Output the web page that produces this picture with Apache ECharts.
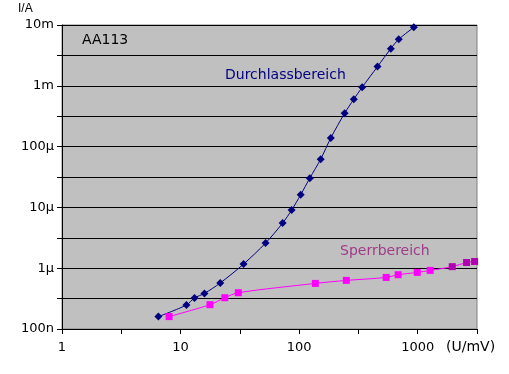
<!DOCTYPE html>
<html><head><meta charset="utf-8">
<script src="https://cdn.jsdelivr.net/npm/echarts@6/dist/echarts.min.js"></script>
<style>html,body{margin:0;padding:0;background:#fff}#c{width:509px;height:374px}</style>
</head><body><div id="c"></div>
<script>
// Durchlassbereich (forward) : U in mV, I in A
var durchU = [6.5, 11.2, 13.1, 15.9, 21.6, 34.0, 52.1, 72.6, 86.4, 103, 123, 152, 185, 242, 289, 340, 458, 593, 692, 927];
var durchI = [1.6e-7, 2.48e-7, 3.24e-7, 3.85e-7, 5.71e-7, 1.17e-6, 2.59e-6, 5.53e-6, 9.03e-6, 1.61e-5, 3.03e-5, 6.22e-5, 1.39e-4, 3.54e-4, 6.01e-4, 9.47e-4, 2.07e-3, 4.08e-3, 5.82e-3, 9.16e-3];
// Sperrbereich (reverse)
var sperrU = [8.0, 17.7, 23.6, 30.7, 137, 250, 542, 684, 991, 1275, 1955, 2583, 3019];
var sperrI = [1.6e-7, 2.51e-7, 3.27e-7, 3.95e-7, 5.62e-7, 6.30e-7, 7.05e-7, 7.81e-7, 8.53e-7, 9.20e-7, 1.06e-6, 1.24e-6, 1.29e-6];
var xTickLabels = {0: '1', 1: '10', 2: '100', 3: '1000'};
var yTickLabels = {'-7': '100n', '-6': '1\u00b5', '-5': '10\u00b5', '-4': '100\u00b5', '-3': '1m', '-2': '10m'};

function pairs(u, i) { return u.map(function (v, k) { return [v, i[k]]; }); }
function decade(v) { return Math.round(Math.log(v) / Math.LN10 * 2) / 2; }

var font = '"DejaVu Sans", Verdana, sans-serif';
var chart = echarts.init(document.getElementById('c'), null, {renderer: 'canvas'});
var sperrData = pairs(sperrU, sperrI).map(function (p, k) {
  return k >= 10 ? {value: p, itemStyle: {color: '#b000b0'}} : p;
});
chart.setOption({
  animation: false,
  backgroundColor: '#ffffff',
  grid: {left: 62, top: 25, right: 32, bottom: 45, show: true, backgroundColor: '#c0c0c0', borderColor: '#808080', borderWidth: 1},
  xAxis: {
    type: 'log', logBase: Math.sqrt(10), min: 1, max: Math.pow(10, 3.5), splitNumber: 7, interval: 1,
    axisLine: {show: true, onZero: false, lineStyle: {color: '#000', width: 1}},
    axisTick: {show: true, length: 5, lineStyle: {color: '#000'}},
    splitLine: {show: false},
    axisLabel: {
      margin: 12, color: '#000', fontFamily: font, fontSize: 13,
      formatter: function (v) { var e = decade(v); return xTickLabels[e] !== undefined ? xTickLabels[e] : ''; }
    }
  },
  yAxis: {
    type: 'log', logBase: Math.sqrt(10), min: 1e-7, max: 1e-2, splitNumber: 10, interval: 1,
    axisLine: {show: true, onZero: false, lineStyle: {color: '#000', width: 1}},
    axisTick: {show: true, length: 5, lineStyle: {color: '#000'}},
    splitLine: {show: true, lineStyle: {color: '#000', width: 1}},
    axisLabel: {
      margin: 8, color: '#000', fontFamily: font, fontSize: 13,
      formatter: function (v) { var e = decade(v); return yTickLabels[String(e)] !== undefined ? yTickLabels[String(e)] : ''; }
    }
  },
  series: [
    {
      name: 'Durchlassbereich', type: 'line', data: pairs(durchU, durchI), smooth: 0.3,
      symbol: 'diamond', symbolSize: 8, showSymbol: true,
      lineStyle: {color: '#000080', width: 1}, itemStyle: {color: '#000080'}
    },
    {
      name: 'Sperrbereich', type: 'line', data: sperrData, smooth: 0.3,
      symbol: 'rect', symbolSize: 7, showSymbol: true,
      lineStyle: {color: '#ff00ff', width: 1}, itemStyle: {color: '#ff00ff'}
    }
  ],
  graphic: [
    {type: 'text', left: 18, top: 3, style: {text: 'I/A', fill: '#000', font: '12px "Liberation Sans", Arial, sans-serif'}},
    {type: 'text', left: 446, top: 340, style: {text: '(U/mV)', fill: '#000', font: '14px ' + font}},
    {type: 'text', left: 82, top: 33, style: {text: 'AA113', fill: '#000', font: '14px ' + font}},
    {type: 'text', left: 225, top: 68, style: {text: 'Durchlassbereich', fill: '#000080', font: '14px ' + font}},
    {type: 'text', left: 340, top: 244, style: {text: 'Sperrbereich', fill: '#a03a88', font: '14px ' + font}}
  ]
});
</script></body></html>
